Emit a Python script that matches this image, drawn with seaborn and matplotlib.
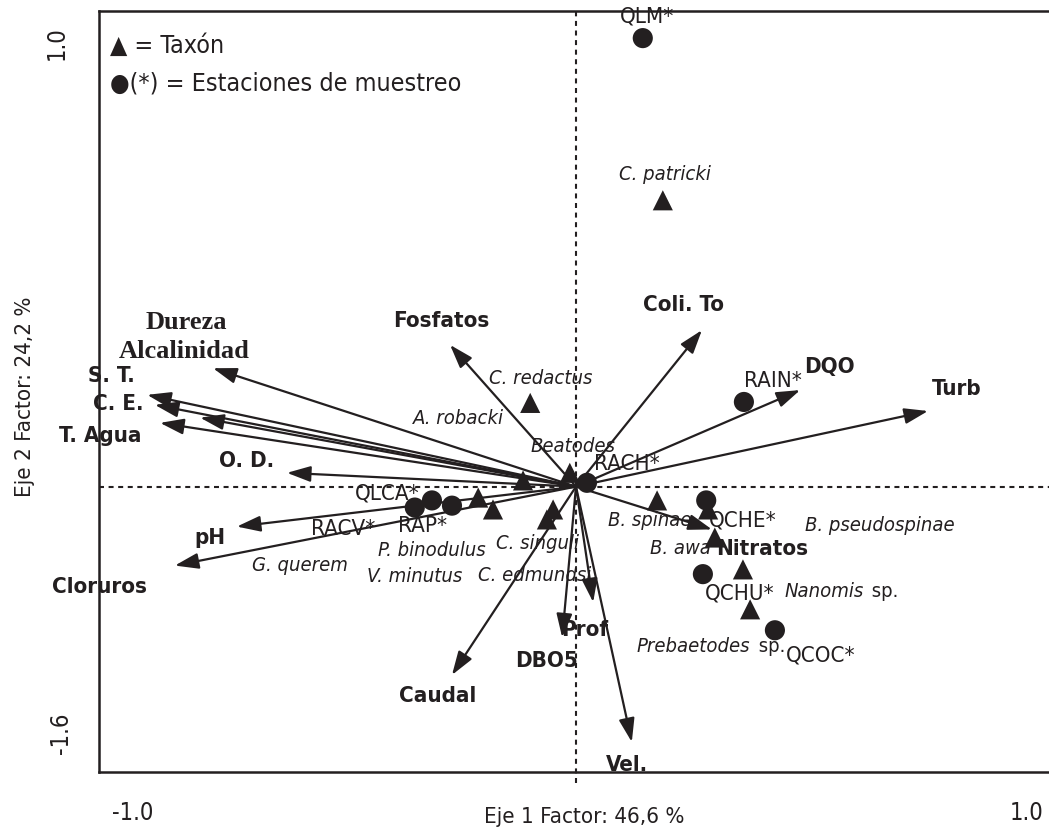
import matplotlib
matplotlib.use("Agg")
import matplotlib.pyplot as plt
import pandas as pd
import seaborn as sns

# Environmental variables (arrow tips, axis 1 / axis 2 scores)
env_names = ["Dureza", "Alcalinidad", "S. T.", "C. E.", "T. Agua", "O. D.", "pH",
             "Cloruros", "Fosfatos", "Coli. To", "DQO", "Turb", "Nitratos",
             "Caudal", "DBO5", "Prof", "Vel."]
env_x = [-0.761, -0.788, -0.899, -0.883, -0.872, -0.606, -0.711, -0.841, -0.264,
         0.264, 0.470, 0.738, 0.285, -0.260, -0.029, 0.036, 0.117]
env_y = [0.249, 0.145, 0.193, 0.172, 0.134, 0.029, -0.084, -0.166, 0.298,
         0.329, 0.203, 0.159, -0.090, -0.396, -0.317, -0.243, -0.537]

# Sampling stations
station_names = ["QLM*", "RAIN*", "RACH*", "QCHE*", "QCHU*", "QCOC*", "QLCA*", "RACV*", "RAP*"]
station_x = [0.140, 0.352, 0.023, 0.273, 0.266, 0.417, -0.302, -0.338, -0.260]
station_y = [0.943, 0.178, 0.008, -0.029, -0.184, -0.302, -0.029, -0.044, -0.040]

# Taxa
taxa_names = ["C. patricki", "C. redactus", "A. robacki", "Beatodes", "P. binodulus",
              "V. minutus", "C. singuli", "C. edmundsi", "B. spinae", "B. pseudospinae",
              "B. awa", "Nanomis", "Prebaetodes"]
taxa_x = [0.182, -0.096, -0.111, -0.013, -0.205, -0.174, -0.048, -0.061, 0.170,
          0.277, 0.291, 0.350, 0.365]
taxa_y = [0.602, 0.176, 0.013, 0.029, -0.023, -0.048, -0.048, -0.069, -0.029,
          -0.048, -0.107, -0.174, -0.258]

# label anchors (layout)
env_label_pos = {
    "S. T.": (-0.975, 0.235), "C. E.": (-0.960, 0.176), "T. Agua": (-0.998, 0.109),
    "O. D.": (-0.690, 0.055), "pH": (-0.767, -0.105), "Cloruros": (-0.998, -0.208),
    "Fosfatos": (-0.283, 0.350), "Coli. To": (0.226, 0.384), "DQO": (0.532, 0.254),
    "Turb": (0.799, 0.208), "Nitratos": (0.390, -0.128), "Caudal": (-0.291, -0.438),
    "DBO5": (-0.061, -0.365), "Prof": (0.019, -0.300), "Vel.": (0.107, -0.583),
}
serif_label_pos = {"Dureza": (-0.816, 0.348), "Alcalinidad": (-0.822, 0.287)}
station_label_pos = {
    "QLM*": (0.149, 0.990), "RAIN*": (0.413, 0.224), "RACH*": (0.107, 0.050),
    "QCHE*": (0.350, -0.069), "QCHU*": (0.344, -0.222), "QCOC*": (0.512, -0.354),
    "QLCA*": (-0.396, -0.013), "RACV*": (-0.488, -0.086), "RAP*": (-0.321, -0.080),
}
taxa_label_pos = {
    "C. patricki": (0.187, 0.658), "C. redactus": (-0.075, 0.229),
    "A. robacki": (-0.247, 0.145), "Beatodes": (-0.006, 0.086),
    "P. binodulus": (-0.302, -0.132), "V. minutus": (-0.338, -0.187),
    "G. querem": (-0.579, -0.164), "C. singuli": (-0.080, -0.117),
    "C. edmundsi": (-0.086, -0.184), "B. spinae": (0.155, -0.069),
    "B. pseudospinae": (0.637, -0.080), "B. awa": (0.218, -0.128),
}
genus_sp_pos = {"Nanomis": (0.603, -0.218), "Prebaetodes": (0.365, -0.333)}

ink = "#231f20"
sns.set_style("white")
plt.rcParams["font.family"] = ["DejaVu Sans"]
plt.rcParams["font.stretch"] = "condensed"

fig = plt.figure(figsize=(10.49, 8.29), dpi=100)
ax = fig.add_axes([99 / 1049, 1 - 773 / 829, 954 / 1049, 761 / 829])
ax.patch.set_visible(False)

# dashed zero lines
ax.axvline(0, color=ink, lw=1.5, ls=(0, (2.4, 2.2)), ymin=-0.015, clip_on=False, zorder=1)
ax.axhline(0, color=ink, lw=1.5, ls=(0, (2.4, 2.2)), zorder=1)

# arrows for environmental variables
for ex, ey in zip(env_x, env_y):
    ax.annotate("", xy=(ex, ey), xytext=(0, 0),
                arrowprops=dict(arrowstyle="-|>,head_length=0.9,head_width=0.3",
                                color=ink, lw=1.6, mutation_scale=16,
                                shrinkA=0, shrinkB=0), zorder=3)

pts = pd.DataFrame({
    "x": taxa_x + station_x,
    "y": taxa_y + station_y,
    "tipo": ["Taxón"] * len(taxa_x) + ["Estación"] * len(station_x),
})
sns.scatterplot(data=pts, x="x", y="y", style="tipo",
                markers={"Taxón": "^", "Estación": "o"},
                color=ink, s=210, linewidth=0, legend=False, ax=ax, zorder=4)

for name, (lx, ly) in env_label_pos.items():
    ax.text(lx, ly, name, ha="center", va="center", fontsize=16,
            fontweight="bold", color=ink, zorder=5)
for name, (lx, ly) in serif_label_pos.items():
    ax.text(lx, ly, name, ha="center", va="center", fontsize=19,
            fontweight="bold", family="Liberation Serif", color=ink, zorder=5)
for name, (lx, ly) in station_label_pos.items():
    ax.text(lx, ly, name, ha="center", va="center", fontsize=16, color=ink, zorder=5)
for name, (lx, ly) in taxa_label_pos.items():
    ax.text(lx, ly, name, ha="center", va="center", fontsize=14.5,
            style="italic", color=ink, zorder=5)
for name, (lx, ly) in genus_sp_pos.items():
    ax.text(lx, ly, name, ha="right", va="center", fontsize=14.5,
            style="italic", color=ink, zorder=5)
    ax.text(lx + 0.006, ly, " sp.", ha="left", va="center", fontsize=14.5,
            color=ink, zorder=5)

# legend text
ax.text(0.012, 0.955, "▲ = Taxón", transform=ax.transAxes, ha="left", va="center",
        fontsize=18, color=ink)
ax.text(0.012, 0.906, "●(*) = Estaciones de muestreo", transform=ax.transAxes,
        ha="left", va="center", fontsize=18, color=ink)

ax.set_xlim(-1.0, 1.0)
ax.set_ylim(-0.6, 1.0)
ax.set_xticks([-1.0, -0.5, 0.0, 0.5, 1.0])
ax.set_yticks([-0.6, -0.4, -0.2, 0.0, 0.2, 0.4, 0.6, 0.8, 1.0])
ax.set_xticklabels([])
ax.set_yticklabels([])
ax.set_xlabel("")
ax.set_ylabel("")
ax.tick_params(direction="inout", length=12, width=1.5, color=ink)
ax.spines["right"].set_visible(False)
for side in ["left", "top", "bottom"]:
    ax.spines[side].set_color(ink)
    ax.spines[side].set_linewidth(1.8)

# end labels and axis titles
fig.text(133 / 1049, 1 - 813 / 829, "-1.0", ha="center", va="center", fontsize=17, color=ink)
fig.text(1027 / 1049, 1 - 813 / 829, "1.0", ha="center", va="center", fontsize=17, color=ink)
fig.text(57 / 1049, 1 - 43 / 829, "1.0", ha="center", va="center", rotation=90,
         fontsize=17, color=ink)
fig.text(61 / 1049, 1 - 733 / 829, "-1.6", ha="center", va="center", rotation=90,
         fontsize=17, color=ink)
fig.text(584 / 1049, 1 - 817 / 829, "Eje 1 Factor: 46,6 %", ha="center", va="center",
         fontsize=16, color=ink)
fig.text(25 / 1049, 1 - 397 / 829, "Eje 2 Factor: 24,2 %", ha="center", va="center",
         rotation=90, fontsize=16, color=ink)

fig.savefig("out.png", dpi=100)
